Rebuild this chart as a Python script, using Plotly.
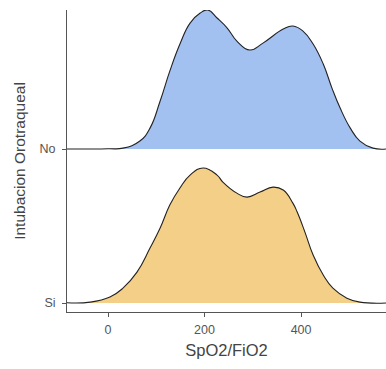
import plotly.graph_objects as go

# Data (x = SpO2/FiO2, heights in units of ridge spacing)
categories = ["Si", "No"]
x_no = [-85, 0, 31, 66, 87, 108, 128, 149, 170, 191, 207, 226, 247, 267, 294, 321, 363, 383, 404,
        425, 446, 464, 481, 502, 522, 549, 576]
h_no = [0, 0.002, 0.006, 0.052, 0.136, 0.312, 0.506, 0.682, 0.818, 0.883, 0.903, 0.851, 0.786, 0.701,
        0.643, 0.688, 0.779, 0.799, 0.766, 0.682, 0.552, 0.396, 0.266, 0.136, 0.052, 0.006, 0]
x_si = [-85, -37, 4, 31, 60, 87, 108, 128, 149, 170, 197, 226, 238, 267, 288, 315, 342, 363, 383,
        392, 408, 425, 446, 466, 495, 522, 576]
h_si = [0.002, 0.006, 0.039, 0.097, 0.201, 0.357, 0.487, 0.636, 0.747, 0.831, 0.877, 0.831, 0.786,
        0.714, 0.688, 0.721, 0.753, 0.734, 0.649, 0.591, 0.461, 0.312, 0.182, 0.097, 0.032, 0.006, 0]
x_ticks = [0, 200, 400]

fills = {"No": "#A3C1F0", "Si": "#F4CF88"}
series = {"No": (x_no, h_no, 2), "Si": (x_si, h_si, 1)}

fig = go.Figure()
for name in ["No", "Si"]:
    xs, hs, base = series[name]
    fig.add_trace(go.Scatter(x=xs, y=[base] * len(xs), mode="lines",
                             line=dict(width=0, color="rgba(0,0,0,0)"),
                             hoverinfo="skip", showlegend=False))
    fig.add_trace(go.Scatter(x=xs, y=[base + h for h in hs], mode="lines",
                             line=dict(color="#222222", width=1.1, shape="spline", smoothing=1.3),
                             fill="tonexty", fillcolor=fills[name], name=name, showlegend=False))

tick_font = dict(family="Liberation Sans, Arial, sans-serif", size=12.5, color="#555555")
fig.update_layout(
    width=386, height=369,
    margin=dict(l=67, r=0, t=10, b=57),
    paper_bgcolor="white", plot_bgcolor="white",
    font=dict(family="Liberation Sans, Arial, sans-serif"),
    xaxis=dict(range=[-85, 576], tickvals=x_ticks, ticks="outside", ticklen=4, tickcolor="#555",
               showline=True, linecolor="#555", linewidth=1, showgrid=False, zeroline=False,
               tickfont=tick_font, ticklabelstandoff=2,
               title=dict(text="SpO2/FiO2", font=dict(size=16.5, color="#444"), standoff=8)),
    yaxis=dict(range=[0.942, 2.903], tickvals=[1, 2], ticktext=categories, ticks="outside",
               ticklen=4, tickcolor="#555", showline=True, linecolor="#555", linewidth=1,
               showgrid=False, zeroline=False, tickfont=tick_font, ticklabelstandoff=4,
               title=dict(text="Intubacion Orotraqueal", font=dict(size=15.5, color="#444"), standoff=10)),
)
fig.write_html("out.html")
